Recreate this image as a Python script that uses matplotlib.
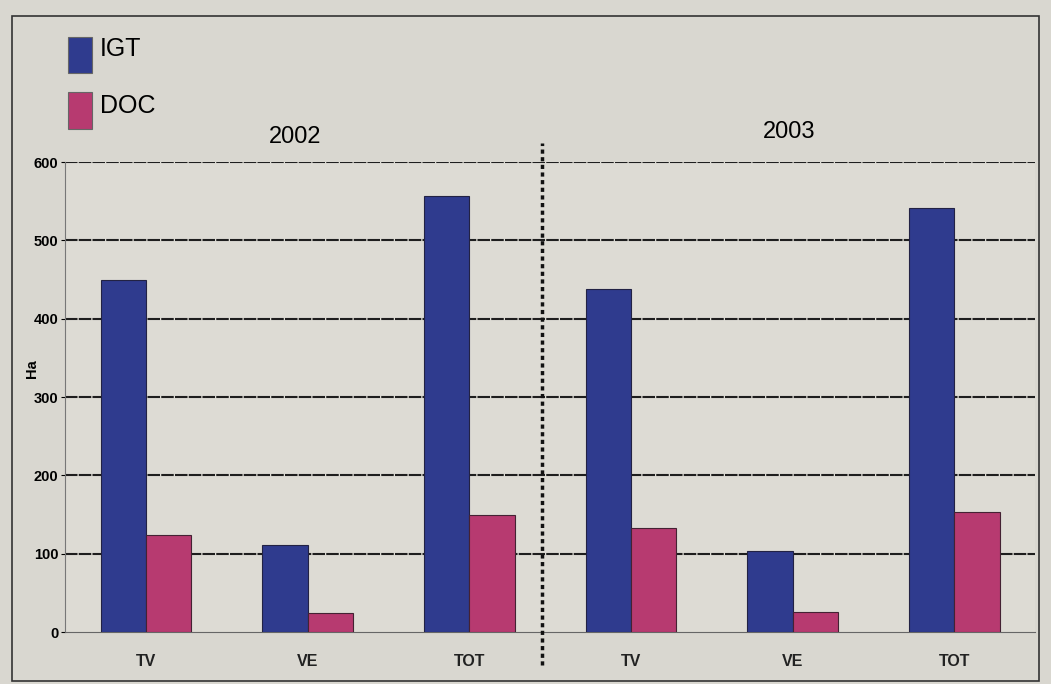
import matplotlib.pyplot as plt
import numpy as np
from matplotlib.patches import Rectangle

plt.rcParams['font.family'] = ['Liberation Sans', 'DejaVu Sans']

categories = ['TV', 'VE', 'TOT', 'TV', 'VE', 'TOT']
years = ['2002', '2003']
igt = [450, 111, 557, 438, 103, 541]
doc = [124, 24, 149, 133, 26, 153]

blue = '#2f3b8e'
pink = '#b73a70'
bg = '#d9d7d0'

fig = plt.figure(figsize=(10.51, 6.84), dpi=100)
fig.patch.set_facecolor(bg)

# outer frame of the printed chart
fig.patches.append(Rectangle((0.011, 0.005), 0.978, 0.972, transform=fig.transFigure,
                             fill=False, edgecolor='#333333', linewidth=1.2))

ax = fig.add_axes([0.062, 0.076, 0.923, 0.687])
ax.set_facecolor('#dddbd4')

x = np.arange(len(categories))
w = 0.28
ax.bar(x - w / 2, igt, w, color=blue, edgecolor='#222244', linewidth=0.8, zorder=3)
ax.bar(x + w / 2, doc, w, color=pink, edgecolor='#442233', linewidth=0.8, zorder=3)

ax.set_xlim(-0.5, len(categories) - 0.5)
ax.set_ylim(0, 600)
ax.set_yticks(range(0, 601, 100))
ax.set_yticklabels([str(v) for v in range(0, 601, 100)], fontsize=10.5, fontweight='bold')
ax.set_xticks(x)
ax.set_xticklabels(categories, fontsize=11.5, fontweight='bold', color='#222222')
ax.tick_params(axis='x', length=0, pad=16)
ax.tick_params(axis='y', length=3, pad=2)

for v in range(100, 601, 100):
    ax.axhline(v, color='#1e1e1e', linewidth=1.5, linestyle=(0, (6, 0.6)), zorder=2)

for s in ['top', 'right']:
    ax.spines[s].set_visible(False)
ax.spines['left'].set_color('#777777')
ax.spines['bottom'].set_color('#666666')

# divider between years
ax.axvline(2.45, ymin=-0.07, ymax=1.04, color='#111111', linewidth=2.5,
           linestyle=(0, (1.2, 1)), clip_on=False, zorder=4)

ax.set_ylabel('Ha', fontsize=10.5, fontweight='bold')
ax.yaxis.set_label_coords(-0.027, 0.56)

ax.text(0.92, 632, years[0], ha='center', va='center', fontsize=17)
ax.text(3.98, 638, years[1], ha='center', va='center', fontsize=17)

# legend
fig.patches.append(Rectangle((0.065, 0.893), 0.023, 0.053, transform=fig.transFigure,
                             facecolor=blue, edgecolor='#666666', linewidth=0.8))
fig.patches.append(Rectangle((0.065, 0.812), 0.023, 0.053, transform=fig.transFigure,
                             facecolor=pink, edgecolor='#666666', linewidth=0.8))
fig.text(0.095, 0.928, 'IGT', fontsize=18, va='center')
fig.text(0.095, 0.845, 'DOC', fontsize=18, va='center')

plt.savefig('out.png', dpi=100, facecolor=bg)
